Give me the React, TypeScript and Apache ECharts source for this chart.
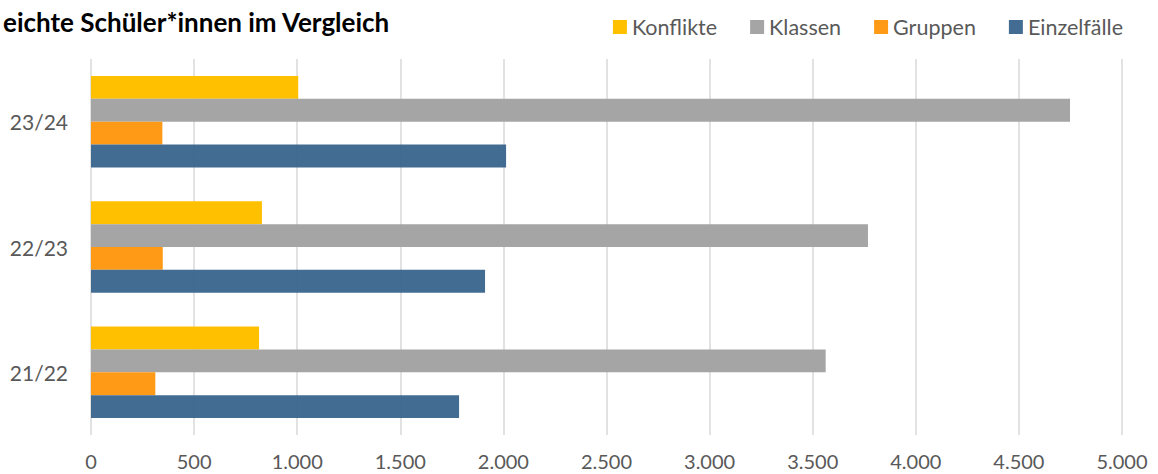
import React, { useEffect, useRef } from "react";
import * as echarts from "echarts";

const categories = ["21/22", "22/23", "23/24"];
const konflikte = [815, 829, 1005];
const klassen = [3563, 3768, 4748];
const gruppen = [312, 348, 346];
const einzelfaelle = [1785, 1911, 2013];
const seriesNames = ["Konflikte", "Klassen", "Gruppen", "Einzelfälle"];
const colors = ["#FFC000", "#A5A5A5", "#FF9A17", "#3D6790"];
const titleText = "eichte Schüler*innen im Vergleich";

const FONT = "Lato, 'Noto Sans', sans-serif";

function fmt(v: number): string {
  return String(Math.round(v)).replace(/\B(?=(\d{3})+(?!\d))/g, ".");
}

export default function App() {
  const ref = useRef<HTMLDivElement>(null);
  useEffect(() => {
    if (!ref.current) return;
    const chart = echarts.init(ref.current, undefined, { renderer: "svg" });
    const data = [konflikte, klassen, gruppen, einzelfaelle];
    chart.setOption({
      animation: false,
      textStyle: { fontFamily: FONT },
      title: {
        text: titleText,
        left: -2,
        top: 4,
        textStyle: { fontFamily: FONT, fontSize: 26, fontWeight: "bold", color: "#000000" },
      },
      legend: {
        data: seriesNames,
        right: 30,
        top: 11,
        itemWidth: 14,
        itemHeight: 14,
        itemGap: 33,
        icon: "rect",
        textStyle: { fontFamily: FONT, fontSize: 21.5, color: "#595959" },
      },
      grid: { left: 91, right: 36, top: 59, bottom: 39, containLabel: false },
      xAxis: {
        type: "value",
        min: 0,
        max: 5000,
        interval: 500,
        axisLine: { show: false },
        axisTick: { show: false },
        splitLine: { lineStyle: { color: "#D9D9D9", width: 1.5 } },
        axisLabel: {
          formatter: (v: number) => fmt(v),
          fontFamily: FONT,
          fontSize: 20,
          lineHeight: 22,
          color: "#595959",
          margin: 15,
        },
      },
      yAxis: {
        type: "category",
        data: categories,
        axisLine: { show: false },
        axisTick: { show: false },
        splitLine: { show: false },
        axisLabel: { fontFamily: FONT, fontSize: 21, color: "#595959", margin: 23 },
      },
      series: seriesNames.map((name, i) => ({
        name,
        type: "bar",
        data: data[i],
        barGap: "0%",
        barCategoryGap: "27%",
        itemStyle: { color: colors[i], opacity: i === 3 ? 0.97 : 1 },
      })),
    });
    return () => chart.dispose();
  }, []);
  return <div ref={ref} style={{ width: 1158, height: 474, position: "absolute", left: 0, top: 0 }} />;
}
